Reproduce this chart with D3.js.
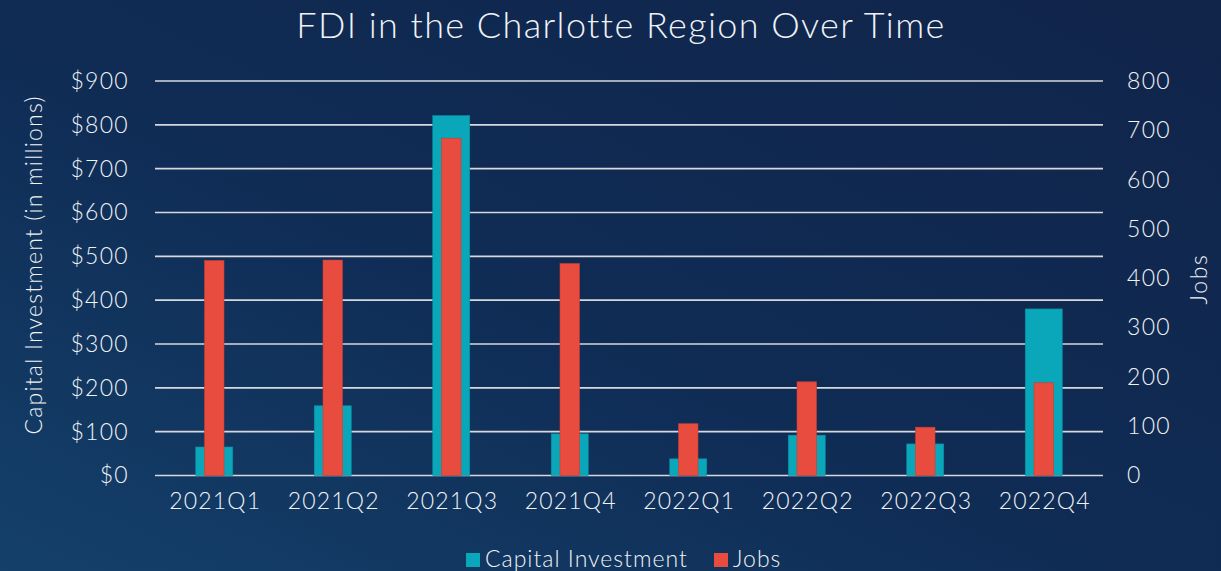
<!DOCTYPE html>
<html><head><meta charset="utf-8">
<script src="https://cdn.jsdelivr.net/npm/d3@7"></script>
<style>
html,body{margin:0;padding:0;background:#11294f;}
svg{display:block;}
text{font-family:Lato,"Open Sans",sans-serif;font-weight:300;fill:#f0f3f6;}
</style></head>
<body>
<svg id="chart" width="1221" height="571"></svg>
<script>
const categories = ["2021Q1","2021Q2","2021Q3","2021Q4","2022Q1","2022Q2","2022Q3","2022Q4"];
const capitalInvestment = [65, 159, 821, 95, 38, 92, 72, 380];
const jobs = [436, 437, 684, 430, 105, 190, 98, 188];
const leftTicks = [0,100,200,300,400,500,600,700,800,900];
const rightTicks = [0,100,200,300,400,500,600,700,800];
const seriesNames = ["Capital Investment","Jobs"];
const colors = ["#0aa6b9","#e84c3f"];

const svg = d3.select("#chart");
const W = 1221, H = 571;
const defs = svg.append("defs");
const g1 = defs.append("linearGradient").attr("id","bg").attr("x1","0").attr("y1","1").attr("x2","1").attr("y2","0");
g1.append("stop").attr("offset","0").attr("stop-color","#14406a");
g1.append("stop").attr("offset","0.45").attr("stop-color","#0f2c55");
g1.append("stop").attr("offset","1").attr("stop-color","#11244a");
svg.append("rect").attr("width",W).attr("height",H).attr("fill","url(#bg)");

const x = d3.scaleBand().domain(categories).range([155,1103]).padding(0);
const yL = d3.scaleLinear().domain([0,900]).range([475.5,81]);
const yR = d3.scaleLinear().domain([0,800]).range([475.5,81]);

// gridlines
svg.append("g").selectAll("line").data(leftTicks).join("line")
  .attr("x1",155).attr("x2",1103)
  .attr("y1",d=>yL(d)).attr("y2",d=>yL(d))
  .attr("stroke","#d6d8dc").attr("stroke-width",1.6);

function styleTicks(g, size, ls){
  g.select(".domain").remove();
  g.selectAll("text").attr("font-size",size).attr("fill","#f0f3f6")
    .attr("letter-spacing",ls)
    .style("font-family","Lato, sans-serif").style("font-weight",300);
}

// left axis labels
const axL = d3.axisLeft(yL).tickValues(leftTicks).tickFormat(d=>"$"+d).tickSize(0).tickPadding(0);
const gL = svg.append("g").attr("transform","translate(129,0)").call(axL);
styleTicks(gL, 23, 1.3);

const axR = d3.axisRight(yR).tickValues(rightTicks).tickFormat(d3.format("d")).tickSize(0).tickPadding(0);
const gR = svg.append("g").attr("transform","translate(1127,0)").call(axR);
styleTicks(gR, 23, 1.3);

const axB = d3.axisBottom(x).tickSize(0).tickPadding(0);
const gB = svg.append("g").attr("transform","translate(1,488)").call(axB);
styleTicks(gB, 23, 1.2);
gB.selectAll("text").attr("dy","0.9em");

// bars
const bw = x.bandwidth();
const tW = 37, rW = 19.5;
svg.append("g").selectAll("rect").data(categories).join("rect")
  .attr("x",(d)=>x(d)+bw/2-tW/2).attr("width",tW)
  .attr("y",(d,i)=>yL(capitalInvestment[i])).attr("height",(d,i)=>yL(0)-yL(capitalInvestment[i]))
  .attr("fill",colors[0]).attr("stroke","#0b8fa3").attr("stroke-width",0.6);
svg.append("g").selectAll("rect").data(categories).join("rect")
  .attr("x",(d)=>x(d)+bw/2-rW/2).attr("width",rW)
  .attr("y",(d,i)=>yR(jobs[i])).attr("height",(d,i)=>yR(0)-yR(jobs[i]))
  .attr("fill",colors[1]).attr("stroke","#c93c33").attr("stroke-width",0.6);

// title
svg.append("text").attr("x",621).attr("y",38).attr("text-anchor","middle")
  .attr("font-size",36).attr("letter-spacing",1.4).text("FDI in the Charlotte Region Over Time");

// axis titles
svg.append("text").attr("transform","translate(33,265) rotate(-90)").attr("text-anchor","middle")
  .attr("dominant-baseline","central").attr("font-size",23).attr("letter-spacing",1.2)
  .text("Capital Investment (in millions)");
svg.append("text").attr("transform","translate(1198,279) rotate(-90)").attr("text-anchor","middle")
  .attr("dominant-baseline","central").attr("font-size",23).attr("letter-spacing",1.6).text("Jobs");

// legend
const leg = svg.append("g");
const legX = [466, 714];
seriesNames.forEach((n,i)=>{
  leg.append("rect").attr("x",legX[i]).attr("y",553).attr("width",14).attr("height",14).attr("fill",colors[i]);
  leg.append("text").attr("x",legX[i]+19).attr("y",567).attr("font-size",23).attr("letter-spacing",1.0).text(n);
});
</script>
</body></html>
